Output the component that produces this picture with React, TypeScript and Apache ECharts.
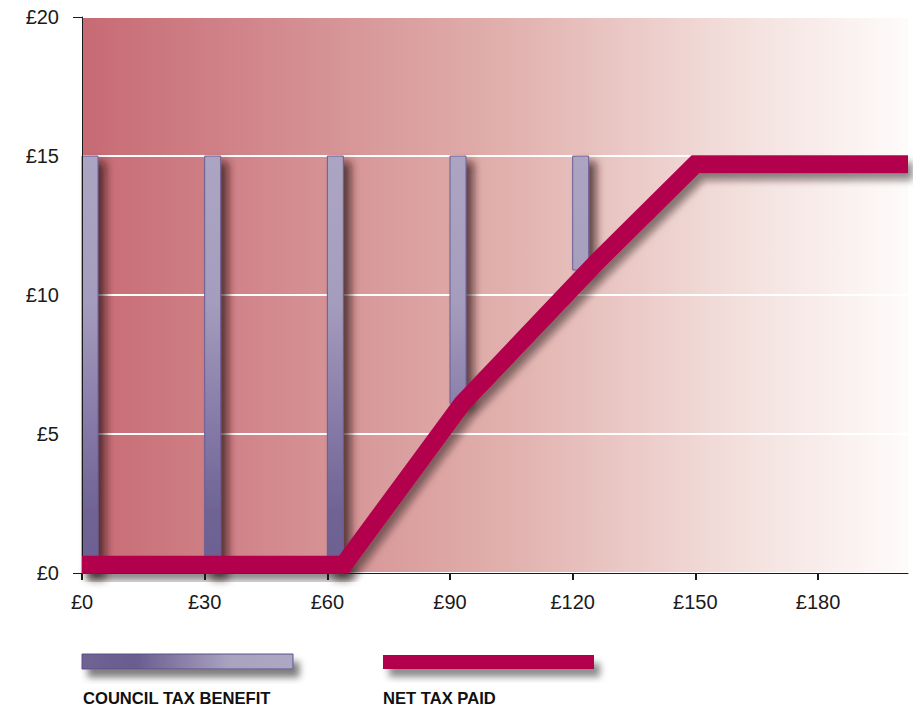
import React, { useEffect, useRef } from "react";
import * as echarts from "echarts";

// ---- data ----
const yTicks = [0, 5, 10, 15, 20];
const xTickValues = [0, 30, 60, 90, 120, 150, 180];
const barIncome = [0, 30, 60, 90, 120];
const netTaxAtBar = [0, 0, 0, 6.1, 10.9];
const benefit = [15, 15, 15, 8.9, 4.1];
const netTaxLine: [number, number][] = [
  [0, 0.3],
  [64, 0.3],
  [93, 6.1],
  [126, 11.2],
  [150, 14.7],
  [202, 14.7],
];
const legendNames = ["COUNCIL TAX BENEFIT", "NET TAX PAID"];

const RED = "#b3004e";
const FONT = "'Liberation Sans', Arial, Helvetica, sans-serif";

export default function App() {
  const ref = useRef<HTMLDivElement>(null);
  useEffect(() => {
    document.body.style.margin = "0";
    const chart = echarts.init(ref.current!, null, { renderer: "svg" });
    const barData = barIncome.map((x, i) => [x, netTaxAtBar[i], netTaxAtBar[i] + benefit[i]]);
    const barStops = [
      { offset: 0, color: "#aca5c2" },
      { offset: 0.35, color: "#a59dbd" },
      { offset: 0.65, color: "#8579a7" },
      { offset: 0.85, color: "#6f6494" },
      { offset: 1, color: "#6c6092" },
    ];
    chart.setOption({
      animation: false,
      grid: {
        left: 82,
        top: 17,
        right: 5,
        bottom: 137,
        show: true,
        borderWidth: 0,
        backgroundColor: new echarts.graphic.LinearGradient(0, 0, 1, 0, [
          { offset: 0, color: "#c76a74" },
          { offset: 0.5, color: "#e0aeab" },
          { offset: 0.8, color: "#f3e0dd" },
          { offset: 1, color: "#fefbfb" },
        ]),
      },
      xAxis: {
        type: "value",
        min: 0,
        max: 202,
        interval: 30,
        splitLine: { show: false },
        axisLine: { show: true, lineStyle: { color: "#1a1a1a", width: 1 } },
        axisTick: { show: true, length: 7, customValues: xTickValues, lineStyle: { color: "#1a1a1a", width: 2 } },
        axisLabel: {
          customValues: xTickValues,
          formatter: (v: number) => "£" + v,
          color: "#1a1a1a",
          fontSize: 20,
          fontFamily: FONT,
          margin: 19,
        },
      },
      yAxis: [
        {
          type: "value",
          min: 0,
          max: 20,
          interval: 5,
          z: 3,
          axisLine: { show: true, lineStyle: { color: "#1a1a1a", width: 1 } },
          axisTick: { show: true, length: 9, customValues: [0, 20], lineStyle: { color: "#1a1a1a" } },
          splitLine: { show: false },
          axisLabel: {
            customValues: yTicks,
            formatter: (v: number) => "£" + v,
            color: "#1a1a1a",
            fontSize: 20,
            fontFamily: FONT,
            margin: 23,
          },
        },
        {
          type: "value",
          min: 0,
          max: 20,
          interval: 5,
          position: "left",
          axisLine: { show: false },
          axisTick: { show: false },
          axisLabel: { show: false },
          splitLine: { show: true, lineStyle: { color: "#ffffff", width: 2 } },
        },
      ],
      series: [
        {
          type: "custom",
          name: legendNames[0],
          data: barData,
          encode: { x: 0, y: [1, 2] },
          z: 2,
          renderItem: (params: any, api: any) => {
            const x = api.value(0);
            const base = api.value(1);
            const top = api.value(2);
            const pTop = api.coord([x, top]);
            const pBase = api.coord([x, base]);
            const g0 = api.coord([0, 15])[1];
            const g1 = api.coord([0, 0])[1];
            return {
              type: "rect",
              shape: { x: pTop[0], y: pTop[1], width: 16, height: pBase[1] - pTop[1] },
              style: {
                fill: new echarts.graphic.LinearGradient(0, g0, 0, g1, barStops, true),
                stroke: "#6a5d96",
                lineWidth: 1,
                shadowBlur: 9,
                shadowOffsetX: 7,
                shadowOffsetY: 6,
                shadowColor: "rgba(40,20,25,0.7)",
              },
            };
          },
        },
        {
          type: "line",
          name: legendNames[1],
          data: netTaxLine,
          showSymbol: false,
          z: 3,
          lineStyle: {
            color: RED,
            width: 18,
            join: "miter",
            cap: "butt",
            shadowBlur: 7,
            shadowOffsetX: 5,
            shadowOffsetY: 7,
            shadowColor: "rgba(30,20,20,0.5)",
          },
        },
      ],
      graphic: [
        {
          type: "rect",
          shape: { x: 82, y: 654, width: 211, height: 15 },
          style: {
            fill: new echarts.graphic.LinearGradient(0, 0, 1, 0, [
              { offset: 0, color: "#6f6494" },
              { offset: 0.25, color: "#695c8e" },
              { offset: 0.7, color: "#aaa3c0" },
              { offset: 1, color: "#aea7c3" },
            ]),
            stroke: "#5c4f8c",
            lineWidth: 1,
            shadowBlur: 7,
            shadowOffsetX: 6,
            shadowOffsetY: 8,
            shadowColor: "rgba(0,0,0,0.5)",
          },
        },
        {
          type: "rect",
          shape: { x: 383, y: 655, width: 211, height: 14 },
          style: {
            fill: RED,
            shadowBlur: 7,
            shadowOffsetX: 6,
            shadowOffsetY: 8,
            shadowColor: "rgba(0,0,0,0.45)",
          },
        },
        {
          type: "text",
          x: 83,
          y: 690,
          style: {
            text: legendNames[0],
            font: "bold 16.6px " + FONT,
            fill: "#111",
            verticalAlign: "top",
          },
        },
        {
          type: "text",
          x: 383,
          y: 690,
          style: {
            text: legendNames[1],
            font: "bold 16.6px " + FONT,
            fill: "#111",
            verticalAlign: "top",
          },
        },
      ],
    });
    return () => chart.dispose();
  }, []);
  return <div ref={ref} style={{ width: 913, height: 710 }} />;
}
